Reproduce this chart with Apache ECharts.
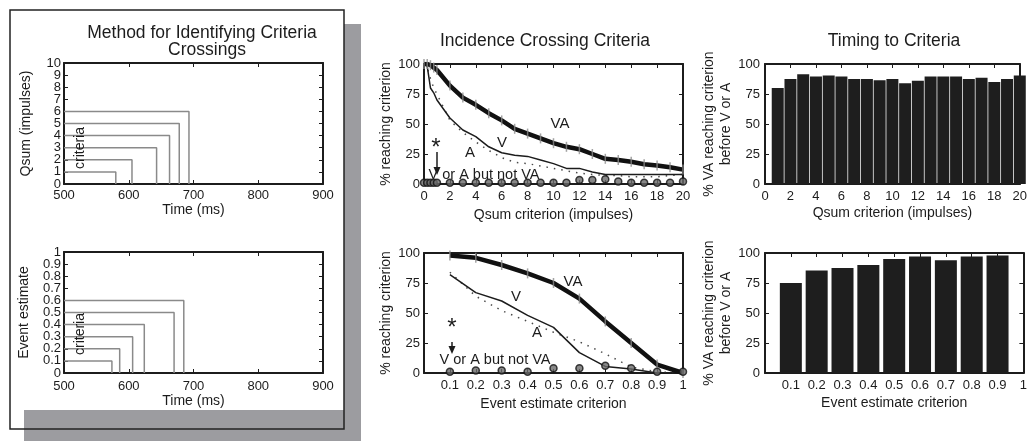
<!DOCTYPE html>
<html lang="en">
<head>
<meta charset="UTF-8">
<title>Criteria crossings</title>
<script src="https://cdn.jsdelivr.net/npm/echarts@6/dist/echarts.min.js"></script>
<style>html,body{margin:0;padding:0;background:#fff}</style>
</head>
<body>
<div id="main" style="width:1030px;height:442px;"></div>
<script>
var FONT = '"Liberation Sans", Arial, Helvetica, sans-serif';
var INK = '#1c1c1c';

// method panels: criterion level and time (ms) it gets crossed
var qsumLevels = [1, 2, 3, 4, 5, 6];
var qsumCrossTimes = [580, 605, 643, 663, 678, 693];
var eventLevels = [0.1, 0.2, 0.3, 0.4, 0.5, 0.6];
var eventCrossTimes = [574, 586, 606, 624, 670, 685];

// incidence crossing criteria, Qsum
var qsumCrit = [0, 0.25, 0.5, 0.75, 1, 2, 3, 4, 5, 6, 7, 8, 9, 10, 11, 12, 13, 14, 15, 16, 17, 18, 19, 20];
var qsumVA = [100, 100, 99, 97, 95, 82, 72, 66, 59, 53, 46, 42, 38, 34, 31, 29, 25, 21, 20, 18.5, 16.5, 15.5, 14, 12];
var qsumV = [100, 98, 80, 76, 70, 55, 45, 39.5, 31, 26, 24, 23, 20, 17, 13, 13, 10, 8, 8, 8, 8, 8, 8, 8];
var qsumA = [100, 97, 88, 80, 75, 53, 43, 35, 28, 22, 18, 17, 15, 13, 11, 9, 8, 7, 7, 6, 6, 6, 7, 8];
var qsumNotVA = [1, 1, 1, 1, 1, 1, 1, 1, 1, 1, 1, 1, 1, 1, 1, 3.3, 3.3, 4, 2, 1, 1, 1, 1, 2];

// incidence crossing criteria, event estimate
var eventCrit = [0.1, 0.2, 0.3, 0.4, 0.5, 0.6, 0.7, 0.8, 0.9, 1];
var eventVA = [98, 96, 90, 83, 75, 62, 43, 25, 7, 0];
var eventV = [82, 67, 60, 48, 38, 17, 5.5, 3.3, 0, 0];
var eventA = [84, 64, 52, 43, 34, 26, 16, 5, 1, 0];
var eventNotVA = [1, 2, 2, 1, 4, 4, 6, 4, 1, 1];

// timing to criteria (% VA before V or A)
var timingQsumCrit = [1, 2, 3, 4, 5, 6, 7, 8, 9, 10, 11, 12, 13, 14, 15, 16, 17, 18, 19, 20];
var timingQsum = [80, 87.5, 91.5, 89.5, 90.5, 89.5, 87.5, 87.5, 86.5, 87.5, 84, 86, 89.5, 89.5, 89.5, 87.5, 88.5, 85, 87.5, 90.5];
var timingEventCrit = [0.1, 0.2, 0.3, 0.4, 0.5, 0.6, 0.7, 0.8, 0.9];
var timingEvent = [75, 85.5, 87.5, 90, 95, 97, 94, 97, 98];

function zip(xs, ys) {
    return xs.map(function (x, i) { return [x, ys[i]]; });
}

var grids = [
    {left: 64, top: 63, width: 259, height: 121},
    {left: 64, top: 252, width: 259, height: 121},
    {left: 424, top: 64, width: 259, height: 120},
    {left: 424, top: 253, width: 259, height: 120},
    {left: 765, top: 64, width: 260, height: 120},
    {left: 765, top: 253, width: 260, height: 120}
];

var xAxes = [], yAxes = [];
var lineOf = {show: true, onZero: false, lineStyle: {color: INK, width: 2}};
var tickOf = {show: true, inside: true, length: 4, lineStyle: {color: INK, width: 1}};

// keep every other label on one axis so dense tick labels are not dropped
function parity(step, odd) {
    return function (v) { return (Math.round(v / step) % 2 === 1) === odd ? String(+v.toFixed(2)) : ''; };
}

// bottom/left axes carry labels, top/right ones just repeat the ticks
function addAxes(gi, x, y) {
    xAxes.push({
        type: 'value', gridIndex: gi, position: 'bottom',
        min: x.min, max: x.max, interval: x.interval,
        axisLine: lineOf, axisTick: tickOf, splitLine: {show: false},
        axisLabel: {color: INK, fontFamily: FONT, fontSize: 13, margin: x.margin, formatter: x.formatter,
                    showMinLabel: true, showMaxLabel: true},
        name: x.name, nameLocation: 'middle', nameGap: x.nameGap,
        nameTextStyle: {color: INK, fontFamily: FONT, fontSize: 14}
    });
    xAxes.push({
        type: 'value', gridIndex: gi, position: 'top',
        min: x.min, max: x.max, interval: x.interval,
        axisLine: lineOf, axisTick: tickOf, splitLine: {show: false}, axisLabel: {show: false}
    });
    var ylab = {color: INK, fontFamily: FONT, fontSize: 13, margin: y.margin, showMinLabel: true, showMaxLabel: true};
    yAxes.push({
        type: 'value', gridIndex: gi, position: 'left',
        min: y.min, max: y.max, interval: y.interval,
        axisLine: lineOf, axisTick: tickOf, splitLine: {show: false},
        axisLabel: Object.assign({}, ylab, y.split ? {formatter: parity(y.interval, false)} : {}),
        name: y.name, nameLocation: 'middle', nameGap: y.nameGap,
        nameTextStyle: {color: INK, fontFamily: FONT, fontSize: 14, lineHeight: 17}
    });
    yAxes.push({
        type: 'value', gridIndex: gi, position: 'right',
        min: y.min, max: y.max, interval: y.interval,
        axisLine: lineOf, axisTick: tickOf, splitLine: {show: false}, axisLabel: {show: false}
    });
    if (y.split) {
        yAxes.push({
            type: 'value', gridIndex: gi, position: 'left',
            min: y.min, max: y.max, interval: y.interval,
            axisLine: {show: false}, axisTick: {show: false}, splitLine: {show: false},
            axisLabel: Object.assign({}, ylab, {formatter: parity(y.interval, true)})
        });
    }
    var idx = {x: xAxes.length - 2, y: yAxes.length - (y.split ? 3 : 2)};
    return idx;
}

var hideZero = function (v) { return v === 0 ? '' : v; };

var a0 = addAxes(0, {min: 500, max: 900, interval: 100, margin: 5, name: 'Time (ms)', nameGap: 13},
                    {min: 0, max: 10, interval: 1, margin: 3, split: true, name: 'Qsum (impulses)', nameGap: 29});
var a1 = addAxes(1, {min: 500, max: 900, interval: 100, margin: 7, name: 'Time (ms)', nameGap: 19},
                    {min: 0, max: 1, interval: 0.1, margin: 3, split: true, name: 'Event estimate', nameGap: 31});
var a2 = addAxes(2, {min: 0, max: 20, interval: 2, margin: 6, name: 'Qsum criterion (impulses)', nameGap: 24},
                    {min: 0, max: 100, interval: 25, margin: 4, name: '% reaching criterion', nameGap: 24});
var a3 = addAxes(3, {min: 0, max: 1, interval: 0.1, margin: 6, formatter: hideZero, name: 'Event estimate criterion', nameGap: 24},
                    {min: 0, max: 100, interval: 25, margin: 4, name: '% reaching criterion', nameGap: 24});
var a4 = addAxes(4, {min: 0, max: 20, interval: 2, margin: 6, name: 'Qsum criterion (impulses)', nameGap: 22},
                    {min: 0, max: 100, interval: 25, margin: 5, name: '% VA reaching criterion\nbefore V or A', nameGap: 18});
var a5 = addAxes(5, {min: 0, max: 1, interval: 0.1, margin: 6, formatter: hideZero, name: 'Event estimate criterion', nameGap: 23},
                    {min: 0, max: 100, interval: 25, margin: 5, name: '% VA reaching criterion\nbefore V or A', nameGap: 18});

var series = [];

function criteriaSteps(ai, levels, times) {
    levels.forEach(function (lvl, i) {
        series.push({
            type: 'line', xAxisIndex: ai.x, yAxisIndex: ai.y, symbol: 'none', silent: true,
            lineStyle: {color: '#8a8a8a', width: 1.5},
            data: [[500, lvl], [times[i], lvl], [times[i], 0]]
        });
    });
}
criteriaSteps(a0, qsumLevels, qsumCrossTimes);
criteriaSteps(a1, eventLevels, eventCrossTimes);

function incidence(ai, xs, va, v, a, notVa) {
    series.push({
        type: 'line', xAxisIndex: ai.x, yAxisIndex: ai.y, symbol: 'none',
        lineStyle: {color: '#4a4a4a', width: 1.5, type: [1.5, 6]},
        data: zip(xs, a)
    });
    series.push({
        type: 'line', xAxisIndex: ai.x, yAxisIndex: ai.y, symbol: 'none',
        lineStyle: {color: INK, width: 1.5},
        data: zip(xs, v)
    });
    series.push({
        type: 'line', xAxisIndex: ai.x, yAxisIndex: ai.y, symbol: 'none',
        lineStyle: {color: '#111', width: 4.5},
        data: zip(xs, va)
    });
    series.push({
        type: 'scatter', xAxisIndex: ai.x, yAxisIndex: ai.y, symbol: 'rect', symbolSize: [1.5, 10],
        itemStyle: {color: '#8c8c8c'}, z: 3,
        data: zip(xs, va)
    });
    series.push({
        type: 'scatter', xAxisIndex: ai.x, yAxisIndex: ai.y, symbol: 'circle', symbolSize: 7,
        itemStyle: {color: '#6a6a6a', borderColor: '#111', borderWidth: 1.5}, z: 4,
        data: zip(xs, notVa)
    });
}
incidence(a2, qsumCrit, qsumVA, qsumV, qsumA, qsumNotVA);
incidence(a3, eventCrit, eventVA, eventV, eventA, eventNotVA);

series.push({
    type: 'bar', xAxisIndex: a4.x, yAxisIndex: a4.y, barWidth: 12, clip: true,
    itemStyle: {color: '#1e1e1e'},
    data: zip(timingQsumCrit, timingQsum)
});
series.push({
    type: 'bar', xAxisIndex: a5.x, yAxisIndex: a5.y, barWidth: 22, clip: true,
    itemStyle: {color: '#1e1e1e'},
    data: zip(timingEventCrit, timingEvent)
});

function txt(x, y, s, size, rot) {
    return {
        type: 'text', x: x, y: y, rotation: rot || 0, z: 100,
        style: {text: s, font: size + 'px ' + FONT, fill: INK,
                align: 'center', verticalAlign: 'middle', textAlign: 'center', textVerticalAlign: 'middle'}
    };
}
function arrow(x, y0, y1) {
    return [
        {type: 'line', z: 100, shape: {x1: x, y1: y0, x2: x, y2: y1 - 6}, style: {stroke: INK, lineWidth: 1.5}},
        {type: 'polygon', z: 100, shape: {points: [[x - 3.5, y1 - 8], [x + 3.5, y1 - 8], [x, y1]]}, style: {fill: INK}}
    ];
}

var graphic = [
    {type: 'rect', z: -20, shape: {x: 24, y: 24, width: 337, height: 417}, style: {fill: '#9c9ca0'}},
    {type: 'rect', z: -19, shape: {x: 10, y: 10, width: 334, height: 400}, style: {fill: '#fff'}},
    {type: 'rect', z: -18, shape: {x: 10, y: 10, width: 334, height: 419}, style: {fill: 'none', stroke: '#222', lineWidth: 1.5}},
    txt(202, 33, 'Method for Identifying Criteria', 17.5),
    txt(207, 50, 'Crossings', 17.5),
    txt(545, 41, 'Incidence Crossing Criteria', 17.5),
    txt(894, 41, 'Timing to Criteria', 17.5),
    txt(80, 148, 'criteria', 14, Math.PI / 2),
    txt(80, 334, 'criteria', 14, Math.PI / 2),
    txt(560, 124, 'VA', 15),
    txt(502, 143, 'V', 15),
    txt(470, 153, 'A', 15),
    txt(436, 148, '*', 24),
    txt(484, 175, 'V or A but not VA', 14.5),
    txt(573, 282, 'VA', 15),
    txt(516, 297, 'V', 15),
    txt(537, 333, 'A', 15),
    txt(452, 328, '*', 24),
    txt(495, 360, 'V or A but not VA', 14.5)
].concat(arrow(437, 152, 175), arrow(452, 342, 354));

var chart = echarts.init(document.getElementById('main'));
chart.setOption({
    backgroundColor: '#fff',
    animation: false,
    grid: grids,
    xAxis: xAxes,
    yAxis: yAxes,
    series: series,
    graphic: graphic
});
</script>
</body>
</html>
